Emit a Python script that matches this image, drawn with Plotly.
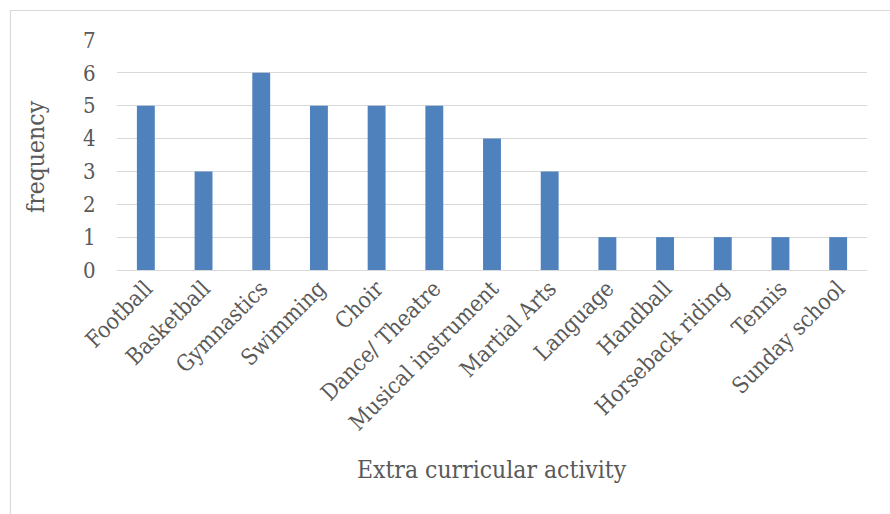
import plotly.graph_objects as go

activities = ["Football", "Basketball", "Gymnastics", "Swimming", "Choir",
              "Dance/ Theatre", "Musical instrument", "Martial Arts", "Language",
              "Handball", "Horseback riding", "Tennis", "Sunday school"]
frequency = [5, 3, 6, 5, 5, 5, 4, 3, 1, 1, 1, 1, 1]
y_ticks = [0, 1, 2, 3, 4, 5, 6, 7]

W, H = 890, 514
L, R, T, B = 117, 23, 40, 244
pw, ph = W - L - R, H - T - B

def px_x(px):
    return (px - L) / pw

def px_y(py):
    return (H - B - py) / ph

font_family = "DejaVu Serif Condensed, Liberation Serif, serif"
grey = "#595959"

fig = go.Figure(go.Bar(
    x=activities, y=frequency,
    marker=dict(color="#4F81BD", line=dict(width=0)),
))

fig.update_layout(
    width=W, height=H,
    margin=dict(l=L, r=R, t=T, b=B, pad=0),
    paper_bgcolor="white", plot_bgcolor="white",
    bargap=0.69,
    showlegend=False,
    font=dict(family=font_family, color=grey, size=22),
    xaxis=dict(
        tickangle=-45, tickfont=dict(size=22.5, color=grey),
        showgrid=False, showline=False, ticks="",
        automargin=False,
    ),
    yaxis=dict(
        range=[0, 7], tickvals=y_ticks, tickfont=dict(size=22, color=grey),
        showgrid=True, gridcolor="#D9D9D9", gridwidth=1.3,
        zeroline=True, zerolinecolor="#D9D9D9", zerolinewidth=1.3,
        ticks="outside", ticklen=16, tickcolor="rgba(0,0,0,0)",
        automargin=False,
    ),
    annotations=[
        dict(text="Extra curricular activity", xref="paper", yref="paper",
             x=px_x(492), y=px_y(470), xanchor="center", yanchor="middle",
             showarrow=False, font=dict(size=24.5, color=grey)),
        dict(text="frequency", xref="paper", yref="paper", textangle=-90,
             x=px_x(35), y=px_y(157), xanchor="center", yanchor="middle",
             showarrow=False, font=dict(size=24.5, color=grey)),
    ],
    shapes=[
        dict(type="line", xref="paper", yref="paper",
             x0=px_x(10), x1=px_x(W + 5), y0=px_y(10.5), y1=px_y(10.5),
             line=dict(color="#D9D9D9", width=1.2)),
        dict(type="line", xref="paper", yref="paper",
             x0=px_x(10.5), x1=px_x(10.5), y0=px_y(10), y1=px_y(H + 5),
             line=dict(color="#D9D9D9", width=1.2)),
    ],
)

fig.write_html("out.html")
